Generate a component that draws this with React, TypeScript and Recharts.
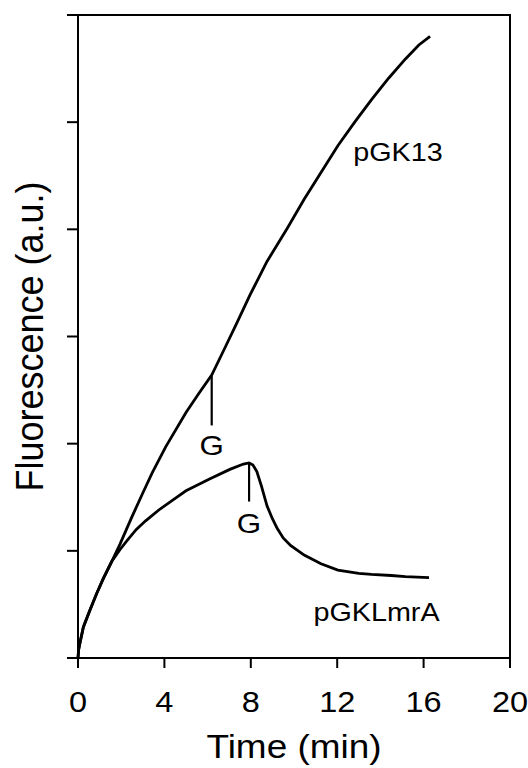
import React from "react";
import { LineChart, Line, XAxis, YAxis, ReferenceLine, ReferenceDot, Label } from "recharts";

const xTicks = [0, 4, 8, 12, 16, 20];
const yTicks = [0, 1, 2, 3, 4, 5, 6];

// time in min, fluorescence in tick units
const pGK13 = [
  { t: 0, v: 0 },
  { t: 0.03, v: 0.08 },
  { t: 0.1, v: 0.15 },
  { t: 0.25, v: 0.29 },
  { t: 0.56, v: 0.45 },
  { t: 0.86, v: 0.6 },
  { t: 1.17, v: 0.74 },
  { t: 1.56, v: 0.9 },
  { t: 1.94, v: 1.06 },
  { t: 2.48, v: 1.31 },
  { t: 3.0, v: 1.54 },
  { t: 3.44, v: 1.73 },
  { t: 4.06, v: 1.97 },
  { t: 5.0, v: 2.29 },
  { t: 5.6, v: 2.47 },
  { t: 6.19, v: 2.64 },
  { t: 6.72, v: 2.86 },
  { t: 7.34, v: 3.12 },
  { t: 7.97, v: 3.39 },
  { t: 8.75, v: 3.7 },
  { t: 9.69, v: 4.01 },
  { t: 10.47, v: 4.28 },
  { t: 11.25, v: 4.53 },
  { t: 12.03, v: 4.78 },
  { t: 12.81, v: 5.0 },
  { t: 13.59, v: 5.21 },
  { t: 14.38, v: 5.41 },
  { t: 15.16, v: 5.59 },
  { t: 15.78, v: 5.72 },
  { t: 16.3, v: 5.8 },
];

const pGKLmrA = [
  { t: 0, v: 0 },
  { t: 0.03, v: 0.08 },
  { t: 0.1, v: 0.15 },
  { t: 0.25, v: 0.29 },
  { t: 0.56, v: 0.45 },
  { t: 0.86, v: 0.6 },
  { t: 1.17, v: 0.74 },
  { t: 1.56, v: 0.9 },
  { t: 1.94, v: 1.01 },
  { t: 2.25, v: 1.09 },
  { t: 2.7, v: 1.2 },
  { t: 3.13, v: 1.28 },
  { t: 3.8, v: 1.39 },
  { t: 4.5, v: 1.49 },
  { t: 5.0, v: 1.56 },
  { t: 6.09, v: 1.67 },
  { t: 7.03, v: 1.76 },
  { t: 7.66, v: 1.81 },
  { t: 7.92, v: 1.82 },
  { t: 8.1, v: 1.8 },
  { t: 8.28, v: 1.74 },
  { t: 8.5, v: 1.6 },
  { t: 8.75, v: 1.42 },
  { t: 9.0, v: 1.3 },
  { t: 9.22, v: 1.21 },
  { t: 9.5, v: 1.12 },
  { t: 9.84, v: 1.05 },
  { t: 10.47, v: 0.96 },
  { t: 11.25, v: 0.88 },
  { t: 12.03, v: 0.82 },
  { t: 13.0, v: 0.79 },
  { t: 13.59, v: 0.78 },
  { t: 14.5, v: 0.77 },
  { t: 15.16, v: 0.76 },
  { t: 16.25, v: 0.75 },
];

// glucose additions: short drop line under the trace and a "G" under it
const gMarks = [
  { t: 6.19, from: 2.64, to: 2.17, labelV: 1.99 },
  { t: 7.92, from: 1.81, to: 1.46, labelV: 1.26 },
];

const curveLabels = [
  { text: "pGK13", t: 14.81, v: 4.72 },
  { text: "pGKLmrA", t: 13.82, v: 0.42 },
];

const FONT = "'Liberation Sans', Arial, Helvetica, sans-serif";

// plot box, same numbers as the chart margin / axis sizes below
const PLOT = { left: 78, top: 15, width: 432, height: 643 };

function StretchText({ x, y, size, sx = 1.12, central = false, children }: any) {
  return (
    <text
      transform={`translate(${x},${y}) scale(${sx},1)`}
      textAnchor="middle"
      dominantBaseline={central ? "central" : "auto"}
      fontFamily={FONT}
      fontSize={size}
      fill="#000"
    >
      {children}
    </text>
  );
}

function XTick({ x, y, payload }: any) {
  return (
    <StretchText x={x} y={y + 42} size={29}>
      {payload.value}
    </StretchText>
  );
}

// y axis has tick marks but no numbers
function NoTick() {
  return <g />;
}

function XTitle({ viewBox }: any) {
  const { x, y, width } = viewBox;
  return (
    <StretchText x={x + width / 2} y={y + 100} size={33}>
      Time (min)
    </StretchText>
  );
}

function YTitle({ viewBox }: any) {
  const { x, y, height } = viewBox;
  return (
    <text
      transform={`translate(${x + 43},${y + height / 2}) scale(1.08,1) rotate(-90)`}
      textAnchor="middle"
      fontFamily={FONT}
      fontSize={36}
      fill="#000"
    >
      Fluorescence (a.u.)
    </text>
  );
}

const axisStroke = { stroke: "#000", strokeWidth: 2 };

export default function App() {
  return (
    <div style={{ position: "absolute", left: 0, top: 0, width: 528, height: 768, background: "#fff" }}>
      <LineChart
        width={528}
        height={768}
        margin={{ top: PLOT.top, right: 528 - PLOT.left - PLOT.width, bottom: 0, left: 0 }}
      >
        <XAxis
          type="number"
          dataKey="t"
          domain={[0, 20]}
          ticks={xTicks}
          tick={<XTick />}
          tickSize={10}
          height={768 - PLOT.top - PLOT.height}
          axisLine={axisStroke}
          tickLine={axisStroke}
        >
          <Label content={<XTitle />} />
        </XAxis>
        <YAxis
          type="number"
          domain={[0, 6]}
          ticks={yTicks}
          tick={<NoTick />}
          tickSize={11}
          width={PLOT.left}
          axisLine={axisStroke}
          tickLine={axisStroke}
        >
          <Label content={<YTitle />} />
        </YAxis>
        <Line
          data={pGK13}
          dataKey="v"
          type="linear"
          stroke="#000"
          strokeWidth={2.8}
          dot={false}
          isAnimationActive={false}
        />
        <Line
          data={pGKLmrA}
          dataKey="v"
          type="linear"
          stroke="#000"
          strokeWidth={2.8}
          dot={false}
          isAnimationActive={false}
        />
        {gMarks.map((g, i) => (
          <ReferenceLine
            key={"gl" + i}
            segment={[
              { x: g.t, y: g.from },
              { x: g.t, y: g.to },
            ]}
            stroke="#000"
            strokeWidth={2.2}
          />
        ))}
        {gMarks.map((g, i) => (
          <ReferenceDot
            key={"gt" + i}
            x={g.t}
            y={g.labelV}
            r={0}
            ifOverflow="visible"
            shape={(p: any) => (
              <StretchText x={p.cx} y={p.cy} size={28} central>
                G
              </StretchText>
            )}
          />
        ))}
        {curveLabels.map((c) => (
          <ReferenceDot
            key={c.text}
            x={c.t}
            y={c.v}
            r={0}
            ifOverflow="visible"
            shape={(p: any) => (
              <StretchText x={p.cx} y={p.cy} size={25} sx={1.15} central>
                {c.text}
              </StretchText>
            )}
          />
        ))}
      </LineChart>
      {/* top and right edges of the box */}
      <div
        style={{
          position: "absolute",
          left: PLOT.left - 1,
          top: PLOT.top - 1,
          width: PLOT.width,
          height: PLOT.height,
          borderTop: "2px solid #000",
          borderRight: "2px solid #000",
          pointerEvents: "none",
        }}
      />
    </div>
  );
}
